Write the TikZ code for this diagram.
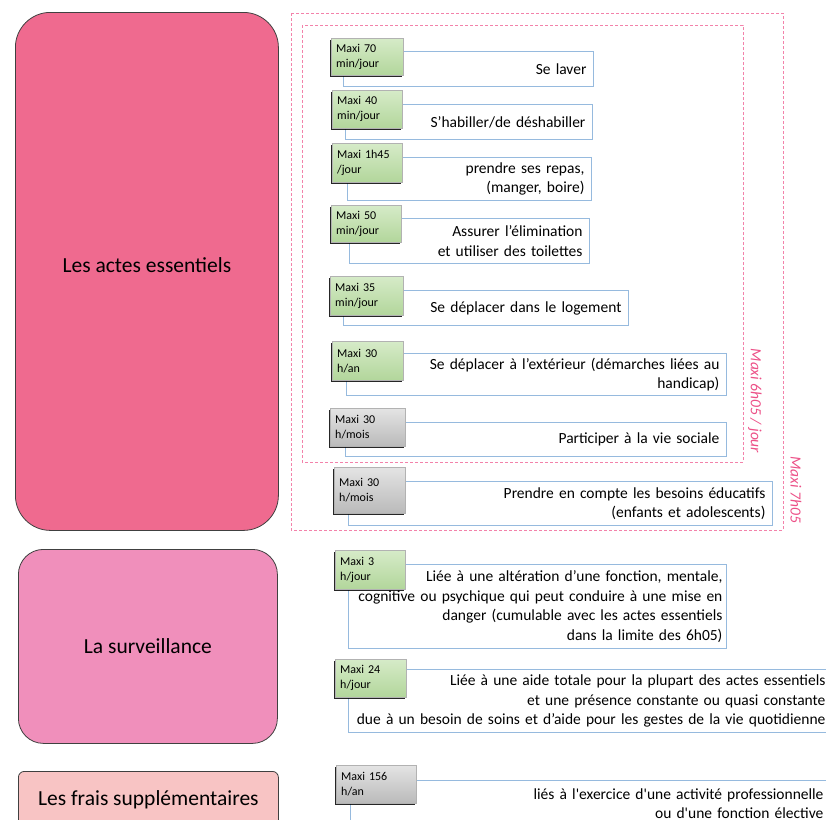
\documentclass[tikz,border=0pt]{standalone}
\usepackage{fontspec}
\setmainfont{Carlito}
\usetikzlibrary{shadows}
\definecolor{actes}{RGB}{239,106,143}
\definecolor{surv}{RGB}{240,143,187}
\definecolor{frais}{RGB}{248,196,196}
\definecolor{rosecadre}{RGB}{243,130,170}
\definecolor{rosemaxi}{RGB}{236,80,135}
\definecolor{bleu}{RGB}{150,186,222}
\definecolor{vertA}{RGB}{214,235,200}
\definecolor{vertB}{RGB}{178,214,155}
\definecolor{grisA}{RGB}{228,228,228}
\definecolor{grisB}{RGB}{186,186,186}
\begin{document}
\begin{tikzpicture}[x=1pt,y=-1pt,
    bloc/.style={draw=black!75,line width=.8pt,anchor=north west,font=\fontsize{21.5}{26}\selectfont},
    texte/.style={draw=bleu,fill=white,line width=.9pt,anchor=north west,inner xsep=7pt,inner ysep=0pt,align=right,font=\fontsize{15.5}{19.5}\selectfont},
    maxi/.style={anchor=north west,top color=vertA,bottom color=vertB,draw=black!30,line width=.4pt,inner xsep=5pt,inner ysep=0pt,minimum height=38pt,text width=#1,align=left,font=\fontsize{12}{15}\selectfont,drop shadow={shadow xshift=-1.2pt,shadow yshift=-1.4pt,fill=black,opacity=.85}},
    gris/.style={top color=grisA,bottom color=grisB},
    cadre/.style={draw=rosecadre,line width=.9pt,dash pattern=on 3pt off 2pt},
    rotlabel/.style={text=rosemaxi,rotate=-90,font=\fontsize{15.5}{18}\selectfont\itshape}
  ]
  \useasboundingbox (0,0) rectangle (826,819);
  % grands blocs
  \node[bloc,fill=actes,rounded corners=35pt,minimum width=263pt,minimum height=518pt,text depth=12pt] (actes) at (15,12) {Les actes essentiels};
  \node[bloc,fill=surv,rounded corners=25pt,minimum width=259pt,minimum height=194pt] (surv) at (18,549) {La surveillance};
  \node[bloc,fill=frais,rounded corners=6pt,minimum width=260pt,minimum height=56pt] (frais) at (18,771) {Les frais supplémentaires};
  % cadres
  \draw[cadre] (291,13) rectangle (783,530);
  \draw[cadre] (302,25) rectangle (743,462);
  \node[rotlabel] (max6) at (755,401) {Maxi 6h05 / jour};
  \node[rotlabel] (max7) at (796,490) {Maxi 7h05};
  % textes
  \node[texte,minimum width=250pt,minimum height=35pt,text width=236pt] (laver) at (343,51) {Se laver};
  \node[texte,minimum width=247pt,minimum height=35pt,text width=233pt] (habiller) at (345,104) {S’habiller/de déshabiller};
  \node[texte,minimum width=244pt,minimum height=43pt,text width=230pt] (repas) at (347,157) {prendre ses repas,\\(manger, boire)};
  \node[texte,minimum width=240pt,minimum height=45pt,text width=226pt] (elim) at (349,218) {Assurer l’élimination\\et utiliser des toilettes};
  \node[texte,minimum width=285pt,minimum height=35pt,text width=271pt] (logement) at (343,290) {Se déplacer dans le logement};
  \node[texte,minimum width=380pt,minimum height=42pt,text width=366pt] (exterieur) at (346,353) {Se déplacer à l’extérieur (démarches liées au\\handicap)};
  \node[texte,minimum width=381pt,minimum height=34pt,text width=367pt] (sociale) at (345,422) {Participer à la vie sociale};
  \node[texte,minimum width=424pt,minimum height=44pt,text width=410pt] (educ) at (348,481) {Prendre en compte les besoins éducatifs\\(enfants et adolescents)};
  \node[texte,minimum width=378pt,minimum height=84pt,inner xsep=4pt,text width=370pt] (alteration) at (348,564) {Liée à une altération d’une fonction, mentale,\\cognitive ou psychique qui peut conduire à une mise en\\danger (cumulable avec les actes essentiels\\dans la limite des 6h05)};
  \node[texte,minimum width=484pt,minimum height=63pt,text width=470pt] (aide) at (348,669) {Liée à une aide totale pour la plupart des actes essentiels\\et une présence constante ou quasi constante\\due à un besoin de soins et d’aide pour les gestes de la vie quotidienne};
  \node[texte,minimum width=480pt,minimum height=46pt,text width=466pt] (pro) at (350,780) {liés à l\textquotesingle exercice d\textquotesingle une activité professionnelle\\ou d\textquotesingle une fonction élective};
  % etiquettes
  \node[maxi=62pt,minimum height=37pt] (m70) at (331,38) {Maxi 70\\min/jour};
  \node[maxi=60pt] (m40) at (332,90) {Maxi 40\\min/jour};
  \node[maxi=60pt,minimum height=39pt] (m145) at (332,143) {Maxi 1h45\\/jour};
  \node[maxi=60pt,minimum height=37pt] (m50) at (331,205) {Maxi 50\\min/jour};
  \node[maxi=63pt,minimum height=39pt] (m35) at (330,276) {Maxi 35\\min/jour};
  \node[maxi=61pt,minimum height=39pt] (m30an) at (332,341) {Maxi 30\\h/an};
  \node[maxi=65pt,gris] (m30mois) at (330,408) {Maxi 30\\h/mois};
  \node[maxi=61pt,gris,minimum height=46pt] (m30educ) at (334,467) {Maxi 30\\h/mois};
  \node[maxi=60pt,minimum height=39pt] (m3) at (335,550) {Maxi 3\\h/jour};
  \node[maxi=61pt] (m24) at (335,659) {Maxi 24\\h/jour};
  \node[maxi=70pt,gris] (m156) at (336,765) {Maxi 156\\h/an};
\end{tikzpicture}
\end{document}
